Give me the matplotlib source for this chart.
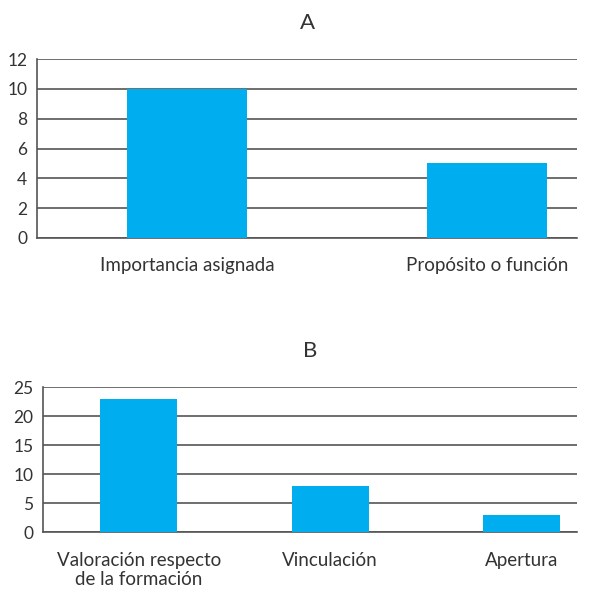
import numpy as np
import matplotlib.pyplot as plt

plt.rcParams['font.family'] = ['Lato', 'DejaVu Sans']

# datos
cat_a = ['Importancia asignada', 'Propósito o función']
val_a = [10, 5]
cat_b = ['Valoración respecto\nde la formación', 'Vinculación', 'Apertura']
val_b = [23, 8, 3]

azul = '#00AEEF'
gris = '#555555'
texto = '#333333'

fig = plt.figure(figsize=(5.89, 5.92), dpi=100)

def panel(ax, cats, vals, ymax, step, titulo, xmax):
    x = np.arange(len(cats))
    ax.bar(x, vals, width=0.4, color=azul, zorder=3)
    ax.set_xlim(-0.5, xmax)
    ax.set_ylim(0, ymax)
    ax.set_yticks(range(0, ymax + 1, step))
    ax.set_xticks(x)
    ax.set_xticklabels(cats, fontsize=13.5, color=texto, linespacing=1.2)
    ax.tick_params(axis='y', labelsize=12.5, colors=texto, length=0, pad=7)
    ax.tick_params(axis='x', length=0, pad=14)
    ax.grid(True, axis='y', color=gris, linewidth=1.2, zorder=0)
    for s in ['top', 'right']:
        ax.spines[s].set_visible(False)
    ax.spines['left'].set_color(gris)
    ax.spines['bottom'].set_color(gris)
    ax.spines['left'].set_linewidth(1.2)
    ax.spines['bottom'].set_linewidth(1.2)
    ax.set_title(titulo, fontsize=16, color=texto, pad=22)

ax1 = fig.add_axes([0.0628, 0.598, 0.917, 0.302])
panel(ax1, cat_a, val_a, 12, 2, 'A', 1.3)

ax2 = fig.add_axes([0.073, 0.101, 0.907, 0.245])
panel(ax2, cat_b, val_b, 25, 5, 'B', 2.29)

plt.savefig('out.png', dpi=100)
